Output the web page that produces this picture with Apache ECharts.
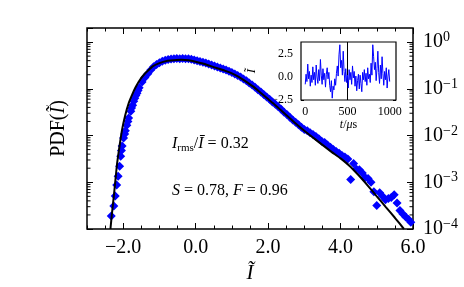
<!DOCTYPE html>
<html>
<head>
<meta charset="utf-8">
<script src="https://cdn.jsdelivr.net/npm/echarts@6/dist/echarts.min.js"></script>
<style>
html,body{margin:0;padding:0;background:#fff;}
#chart{width:464px;height:287px;}
</style>
</head>
<body>
<div id="chart"></div>
<script>
// ---------- data ----------
// histogram of the normalised signal (blue diamonds)
const pdfX = [-2.33,-2.26,-2.22,-2.18,-2.14,-2.10,-2.07,-2.05,-2.03,-1.99,-1.96,-1.94,-1.90,-1.87,-1.85,-1.79,-1.77,-1.74,-1.71,-1.68,-1.65,
  -1.62,-1.59,-1.56,-1.48,-1.40,-1.32,-1.24,-1.16,-1.08,-1.00,-0.92,-0.84,-0.76,-0.68,-0.60,-0.52,-0.44,-0.36,-0.28,-0.20,-0.12,-0.04,
  0.04,0.12,0.20,0.28,0.36,0.44,0.52,0.60,0.68,0.76,0.84,0.92,1.00,1.08,1.16,1.24,1.32,1.40,1.48,1.56,1.64,1.72,1.80,1.88,1.96,
  2.04,2.12,2.20,2.28,2.36,2.44,2.52,2.60,2.68,2.76,2.84,2.92,3.00,3.08,3.16,3.24,3.32,3.40,3.48,3.56,3.64,3.72,3.80,3.88,3.96,
  4.04,4.12,4.20,4.28,4.36,4.44,4.52,4.60,4.68,4.76,4.84,4.92,5.00,5.08,5.16,5.24,5.32,5.40,5.48,5.56,5.64,5.72,5.80,5.88,5.94];
const pdfY = [1.9e-4,3.1e-4,5.1e-4,8.7e-4,1.35e-3,2.2e-3,3.6e-3,4.8e-3,6.0e-3,8.9e-3,0.0108,0.0126,0.0166,0.0200,0.0236,0.0331,0.0390,0.0447,0.0540,0.063,0.072,
  0.080,0.092,0.105,0.140,0.175,0.210,0.251,0.295,0.331,0.363,0.389,0.407,0.422,0.432,0.437,0.447,0.442,0.447,0.442,0.437,0.427,0.412,
  0.398,0.385,0.372,0.355,0.339,0.324,0.309,0.292,0.279,0.266,0.251,0.237,0.224,0.207,0.193,0.178,0.162,0.148,0.133,0.120,0.108,0.0955,0.0851,0.0759,0.0668,
  0.0596,0.0525,0.0468,0.0412,0.0363,0.0316,0.0282,0.0245,0.0216,0.0193,0.0170,0.0151,0.0135,0.0126,0.0115,0.0105,0.00955,0.00851,0.00759,0.00708,0.00631,0.00562,0.00501,0.00457,0.00417,
  0.00372,0.00347,0.00316,0.00115,0.00251,0.00191,0.00186,0.00158,0.00126,0.00120,0.00100,0.00063,0.00032,0.00060,0.00050,0.00042,0.00045,0.00047,0.00054,0.00036,0.00025,0.00021,0.00018,0.00016,0.00014];

// fitted PDF (black line)
const fitX = [-2.353,-2.31,-2.26,-2.215,-2.17,-2.105,-2.033,-1.95,-1.848,-1.75,-1.655,-1.55,-1.43,-1.30,-1.19,-1.00,-0.80,-0.60,-0.40,-0.20,
  0.00,0.20,0.40,0.60,0.80,1.00,1.20,1.40,1.60,1.80,2.00,2.20,2.40,2.60,2.80,3.00,3.25,3.50,3.75,4.00,4.25,4.50,4.75,5.00,5.25,5.50,5.75];
const fitY = [1.00e-4,2.19e-4,5.01e-4,1.12e-3,2.51e-3,5.75e-3,0.0132,0.0263,0.0495,0.0759,0.109,0.151,0.200,0.251,0.302,0.355,0.394,0.407,0.417,0.407,
  0.380,0.347,0.309,0.275,0.245,0.214,0.178,0.141,0.110,0.0813,0.0603,0.0447,0.0324,0.0234,0.0170,0.0126,0.00891,0.00631,0.00447,0.00324,0.00224,0.00141,0.000851,0.000501,0.000295,0.000174,0.000100];

// inset time series
const timeUs = [0,10,20,30,40,50,60,70,80,90,100,110,120,130,140,150,160,170,180,190,200,210,220,230,240,250,260,270,280,290,
  300,310,320,330,340,350,360,370,380,390,400,410,420,430,440,450,460,470,480,490,500,510,520,530,540,550,560,570,580,590,
  600,610,620,630,640,650,660,670,680,690,700,710,720,730,740,750,760,770,780,790,800,810,820,830,840,850,860,870,880,890,
  900,910,920,930,940,950,960,970,980,990,1000];
const signal = [-0.8,0.3,-0.5,1.4,-0.2,0.6,-1.0,0.2,-0.6,1.1,-0.3,0.5,-0.9,1.3,0.0,-0.7,0.8,-0.4,1.9,0.2,-0.8,0.9,-0.3,0.4,-1.1,0.3,1.0,-0.2,0.5,-0.9,
  -1.6,-0.4,-2.3,-1.0,-1.4,-0.2,-0.9,0.4,1.2,0.1,2.4,3.5,1.0,1.8,0.2,2.8,0.6,-0.5,0.9,-0.6,0.2,-1.2,0.8,-0.3,0.5,-0.8,1.2,-0.1,0.6,-1.0,
  0.1,-1.5,-0.4,0.3,-1.3,0.2,-0.7,-1.6,0.5,-0.3,0.8,-0.5,0.4,-0.9,1.0,-0.2,0.3,-0.6,1.5,0.2,3.5,2.2,0.8,1.6,-0.4,0.9,2.8,0.5,-0.7,1.3,
  -0.2,2.2,0.4,-0.9,0.6,-0.3,1.0,-1.2,0.1,0.8,-0.5];

// axis ticks
const xMajorTicks = [-2, 0, 2, 4, 6];
const xMinorTicks = [-3,-2.5,-2,-1.5,-1,-0.5,0,0.5,1,1.5,2,2.5,3,3.5,4,4.5,5,5.5,6];
const insetXTicks = [0, 500, 1000];
const insetXMinor = [0,125,250,375,500,625,750,875,1000];
const insetYTicks = [-2.5, 0, 2.5];
const insetYMinor = [-2.5,-1.25,0,1.25,2.5,3.75];
const insetMarker = 500;

// ---------- chart ----------
const SERIF = 'Liberation Serif';
const X_MIN = -3, X_MAX = 6, Y_MIN = 1e-4, Y_MAX = 2;
const minus = s => String(s).replace('-', '\u2212');

const logMinor = [];
for (let e = -4; e <= 0; e++) {
  for (let m = 2; m <= 9; m++) {
    const v = m * Math.pow(10, e);
    if (v < Y_MAX) logMinor.push(v);
  }
}

const chart = echarts.init(document.getElementById('chart'), null, {renderer: 'canvas'});

const tickStyle = {color: '#000', width: 1};
const noLine = {show: false, onZero: false};
const hidden = {show: false};

const option = {
  animation: false,
  backgroundColor: '#fff',
  grid: [
    {left: 87, right: 51, top: 28, bottom: 58, show: true, borderColor: '#000', borderWidth: 1.5,
     backgroundColor: 'transparent', containLabel: false, outerBoundsMode: 'none'},
    {left: 301, width: 95, top: 42, height: 58, show: true, borderColor: '#000', borderWidth: 1.2,
     backgroundColor: '#fff', containLabel: false, outerBoundsMode: 'none', z: 5}
  ],
  xAxis: [
    { // 0 main bottom
      gridIndex: 0, type: 'value', min: X_MIN, max: X_MAX, position: 'bottom',
      axisLine: noLine, splitLine: hidden,
      axisTick: {show: true, inside: true, length: 6, lineStyle: tickStyle, customValues: xMajorTicks},
      axisLabel: {show: true, customValues: xMajorTicks, margin: 9, color: '#000', fontFamily: SERIF, fontSize: 20,
        formatter: v => minus(Number(v).toFixed(1))},
      name: '\u0128', nameLocation: 'middle', nameGap: 33,
      nameTextStyle: {fontFamily: SERIF, fontStyle: 'italic', fontSize: 21, color: '#000'}
    },
    { // 1 main top
      gridIndex: 0, type: 'value', min: X_MIN, max: X_MAX, position: 'top',
      axisLine: noLine, splitLine: hidden, axisLabel: hidden,
      axisTick: {show: true, inside: true, length: 6, lineStyle: tickStyle, customValues: xMajorTicks}
    },
    { // 2 main bottom minor
      gridIndex: 0, type: 'value', min: X_MIN, max: X_MAX, position: 'bottom',
      axisLine: noLine, splitLine: hidden, axisLabel: hidden,
      axisTick: {show: true, inside: true, length: 3.5, lineStyle: tickStyle, customValues: xMinorTicks}
    },
    { // 3 main top minor
      gridIndex: 0, type: 'value', min: X_MIN, max: X_MAX, position: 'top',
      axisLine: noLine, splitLine: hidden, axisLabel: hidden,
      axisTick: {show: true, inside: true, length: 3.5, lineStyle: tickStyle, customValues: xMinorTicks}
    },
    { // 4 inset bottom
      gridIndex: 1, type: 'value', min: -50, max: 1075, position: 'bottom',
      axisLine: noLine, splitLine: hidden,
      axisTick: {show: true, inside: true, length: 3, lineStyle: tickStyle, customValues: insetXMinor},
      axisLabel: {show: true, customValues: insetXTicks, margin: 6, color: '#000', fontFamily: SERIF, fontSize: 12,
        formatter: v => String(v)},
      name: '{i|t}{r|/}{i|\u03bc}{r|s}', nameLocation: 'middle', nameGap: 19,
      nameTextStyle: {rich: {
        i: {fontFamily: SERIF, fontStyle: 'italic', fontSize: 12, color: '#000'},
        r: {fontFamily: SERIF, fontSize: 12, color: '#000'}}}
    },
    { // 5 inset top
      gridIndex: 1, type: 'value', min: -50, max: 1075, position: 'top',
      axisLine: noLine, splitLine: hidden, axisLabel: hidden,
      axisTick: {show: true, inside: true, length: 3, lineStyle: tickStyle, customValues: insetXMinor}
    }
  ],
  yAxis: [
    { // 0 main left (log)
      gridIndex: 0, type: 'log', logBase: 10, min: Y_MIN, max: Y_MAX, position: 'left',
      axisLine: noLine, splitLine: hidden, axisLabel: hidden, minorTick: hidden,
      axisTick: {show: true, inside: true, length: 6, lineStyle: tickStyle},
      name: '{r|PDF(}{i|\u0128}{r|)}', nameLocation: 'middle', nameRotate: 90, nameGap: 18,
      nameTextStyle: {rich: {
        r: {fontFamily: SERIF, fontSize: 20, color: '#000'},
        i: {fontFamily: SERIF, fontStyle: 'italic', fontSize: 20, color: '#000'}}}
    },
    { // 1 main right (log) with labels
      gridIndex: 0, type: 'log', logBase: 10, min: Y_MIN, max: Y_MAX, position: 'right',
      axisLine: noLine, splitLine: hidden, minorTick: hidden,
      axisTick: {show: true, inside: true, length: 6, lineStyle: tickStyle},
      axisLabel: {show: true, margin: 10, showMaxLabel: false,
        formatter: function (v) {
          const e = Math.log10(v);
          if (Math.abs(e - Math.round(e)) > 1e-6) return '';
          return '{b|10}{s|' + minus(Math.round(e)) + '}';
        },
        rich: {
          b: {fontFamily: SERIF, fontSize: 20, color: '#000'},
          s: {fontFamily: SERIF, fontSize: 14, color: '#000', padding: [0, 0, 9, 0]}
        }}
    },
    { // 2 inset left
      gridIndex: 1, type: 'value', min: -2.5, max: 3.8, position: 'left',
      axisLine: noLine, splitLine: hidden,
      axisTick: {show: true, inside: true, length: 3, lineStyle: tickStyle, customValues: insetYMinor},
      axisLabel: {show: true, customValues: insetYTicks, margin: 8, color: '#000', fontFamily: SERIF, fontSize: 12,
        formatter: v => minus(Number(v).toFixed(1))},
      name: '\u0128', nameLocation: 'middle', nameRotate: 90, nameGap: 43,
      nameTextStyle: {fontFamily: SERIF, fontStyle: 'italic', fontSize: 13, color: '#000'}
    },
    { // 3 inset right
      gridIndex: 1, type: 'value', min: -2.5, max: 3.8, position: 'right',
      axisLine: noLine, splitLine: hidden, axisLabel: hidden,
      axisTick: {show: true, inside: true, length: 3, lineStyle: tickStyle, customValues: insetYMinor}
    }
  ],
  graphic: [
    {type: 'text', left: 172, top: 136, z: 100,
     style: {text: '{i|I}{sub|rms}{r|/}{i|\u012a}{r| = 0.32}',
       rich: {
         i: {fontFamily: SERIF, fontStyle: 'italic', fontSize: 16, fill: '#000'},
         r: {fontFamily: SERIF, fontSize: 16, fill: '#000'},
         sub: {fontFamily: SERIF, fontSize: 11, fill: '#000', padding: [8, 0, 0, 0]}
       }}},
    {type: 'text', left: 172, top: 183, z: 100,
     style: {text: '{i|S}{r| = 0.78, }{i|F}{r| = 0.96}',
       rich: {
         i: {fontFamily: SERIF, fontStyle: 'italic', fontSize: 16, fill: '#000'},
         r: {fontFamily: SERIF, fontSize: 16, fill: '#000'}
       }}}
  ],
  series: [
    {
      type: 'scatter', xAxisIndex: 0, yAxisIndex: 0,
      data: pdfX.map((x, i) => [x, pdfY[i]]),
      symbol: 'diamond', symbolSize: 9,
      itemStyle: {color: '#0000ff', opacity: 1}, z: 2, silent: true
    },
    {
      type: 'line', xAxisIndex: 0, yAxisIndex: 0,
      data: fitX.map((x, i) => [x, fitY[i]]),
      showSymbol: false, smooth: 0.15,
      lineStyle: {color: '#000', width: 2}, z: 3, silent: true
    },
    {
      type: 'custom', xAxisIndex: 0, yAxisIndex: 0, z: 4, silent: true, clip: false,
      data: logMinor.map(v => [X_MIN, v]),
      encode: {x: 0, y: 1},
      renderItem: function (params, api) {
        const v = api.value(1);
        const a = api.coord([X_MIN, v]);
        const b = api.coord([X_MAX, v]);
        return {type: 'group', children: [
          {type: 'line', shape: {x1: a[0], y1: a[1], x2: a[0] + 3.5, y2: a[1]}, style: {stroke: '#000', lineWidth: 1}},
          {type: 'line', shape: {x1: b[0] - 3.5, y1: b[1], x2: b[0], y2: b[1]}, style: {stroke: '#000', lineWidth: 1}}
        ]};
      }
    },
    {
      type: 'line', xAxisIndex: 4, yAxisIndex: 2,
      data: timeUs.map((t, i) => [t, signal[i]]),
      showSymbol: false, lineStyle: {color: '#0000ff', width: 1}, z: 10, silent: true,
      markLine: {silent: true, symbol: 'none', label: {show: false},
        lineStyle: {color: '#000', width: 1, type: 'solid'},
        data: [{xAxis: insetMarker}]}
    }
  ]
};
chart.setOption(option);
</script>
</body>
</html>
